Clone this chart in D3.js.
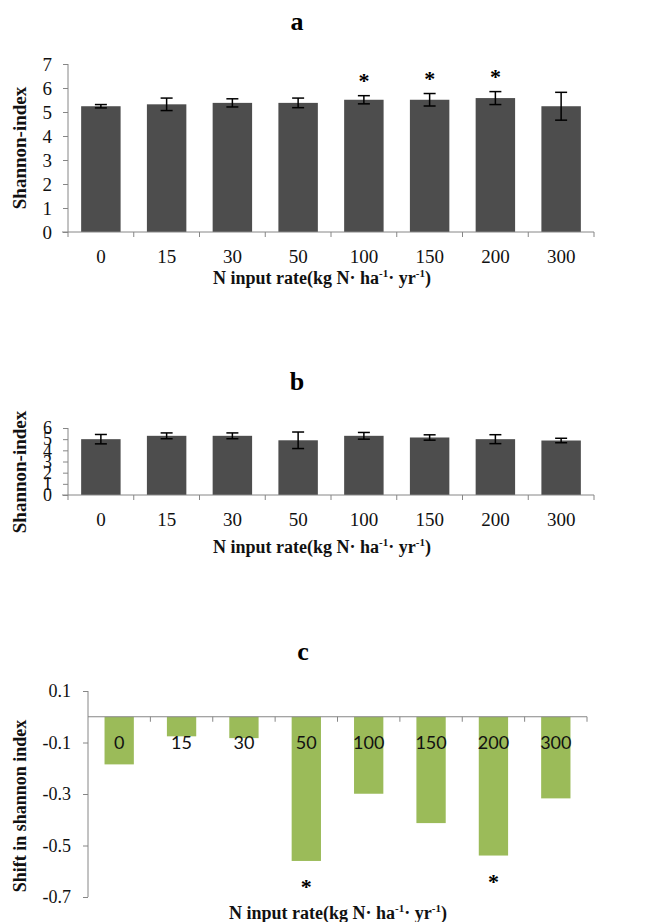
<!DOCTYPE html>
<html><head><meta charset="utf-8">
<script src="https://cdn.jsdelivr.net/npm/d3@7"></script>
<style>body{margin:0;background:#fff}svg{display:block}</style>
</head><body>
<script>
const categories = ["0","15","30","50","100","150","200","300"];
const shannonA = [5.24, 5.32, 5.38, 5.38, 5.51, 5.51, 5.58, 5.24];
const errA     = [0.07, 0.26, 0.17, 0.20, 0.17, 0.26, 0.27, 0.58];
const starsA   = ["100","150","200"];
const shannonB = [5.00, 5.30, 5.30, 4.90, 5.30, 5.15, 5.00, 4.88];
const errB     = [0.42, 0.26, 0.26, 0.74, 0.30, 0.24, 0.40, 0.20];
const shiftC   = [-0.185, -0.076, -0.083, -0.56, -0.299, -0.413, -0.539, -0.317];
const starsC   = ["50","200"];
const ticksA = [0,1,2,3,4,5,6,7];
const ticksB = [0,1,2,3,4,5,6];
const ticksC = [0.1,-0.1,-0.3,-0.5,-0.7];

const W = 665, H = 922;
const svg = d3.select("body").append("svg").attr("width", W).attr("height", H);
const serif = "'Liberation Serif','Times New Roman',serif";
const axisCol = "#868686";
const barGray = "#4d4d4d";
const green = "#9bbb59";

function xTitle(g, x, y) {
  const t = g.append("text").attr("x", x).attr("y", y).attr("text-anchor","middle")
    .attr("font-family", serif).attr("font-weight","bold").attr("font-size",18).attr("fill","#111");
  t.append("tspan").text("N input rate(kg N· ha");
  t.append("tspan").text("-1").attr("font-size",11).attr("dy",-7);
  t.append("tspan").text("· yr").attr("dy",7);
  t.append("tspan").text("-1").attr("font-size",11).attr("dy",-7);
  t.append("tspan").text(")").attr("dy",7);
}

function grayChart(cfg) {
  const g = svg.append("g");
  const x = d3.scaleBand().domain(categories).range([68, 594]).paddingInner(0.4).paddingOuter(0.2);
  const y = d3.scaleLinear().domain([0, cfg.max]).range([cfg.y0, cfg.yTop]);
  g.append("text").attr("x", 297).attr("y", cfg.titleY).attr("text-anchor","middle")
    .attr("font-family", serif).attr("font-weight","bold").attr("font-size",26).text(cfg.title);
  g.selectAll("rect.bar").data(categories).join("rect")
    .attr("x", d => x(d)).attr("width", x.bandwidth())
    .attr("y", (d,i) => y(cfg.vals[i])).attr("height", (d,i) => y(0) - y(cfg.vals[i]))
    .attr("fill", barGray);
  const eb = g.selectAll("g.eb").data(categories).join("g").attr("stroke","#000").attr("stroke-width",1.5);
  eb.append("line").attr("x1", d => x(d)+x.bandwidth()/2).attr("x2", d => x(d)+x.bandwidth()/2)
    .attr("y1",(d,i)=>y(cfg.vals[i]+cfg.errs[i])).attr("y2",(d,i)=>y(cfg.vals[i]-cfg.errs[i]));
  [1,-1].forEach(s => {
    eb.append("line").attr("x1", d => x(d)+x.bandwidth()/2-6).attr("x2", d => x(d)+x.bandwidth()/2+6)
      .attr("y1",(d,i)=>y(cfg.vals[i]+s*cfg.errs[i])).attr("y2",(d,i)=>y(cfg.vals[i]+s*cfg.errs[i]));
  });
  if (cfg.stars) {
    g.selectAll("text.star").data(cfg.stars).join("text")
      .attr("x", d => x(d)+x.bandwidth()/2).attr("y", d => y(cfg.vals[categories.indexOf(d)]+cfg.errs[categories.indexOf(d)]) - 8)
      .attr("text-anchor","middle").attr("font-family", serif).attr("font-weight","bold").attr("font-size",22).text("*");
  }
  const ya = g.append("g").attr("transform","translate(68,0)")
    .call(d3.axisLeft(y).tickValues(cfg.ticks).tickSize(5).tickPadding(11).tickFormat(d3.format("d")));
  ya.select(".domain").attr("stroke", axisCol).attr("d", `M-0,${cfg.yTop}V${cfg.y0}`);
  ya.selectAll(".tick line").attr("stroke", axisCol);
  ya.selectAll(".tick text").attr("font-family", serif).attr("font-size",cfg.tickFont).attr("fill","#111");
  const xa = g.append("g").attr("transform",`translate(0,${cfg.y0})`);
  xa.append("line").attr("x1",62).attr("x2",594).attr("stroke",axisCol);
  const bounds = [68].concat(categories.map(d => x(d)+x.bandwidth()+x.step()*x.paddingInner()/2));
  xa.selectAll("line.tk").data(bounds.slice(0,9)).join("line")
    .attr("x1", d=>d).attr("x2", d=>d).attr("y1",0).attr("y2",5).attr("stroke",axisCol);
  xa.selectAll("text").data(categories).join("text")
    .attr("x", d => x(d)+x.bandwidth()/2).attr("y", 31).attr("text-anchor","middle")
    .attr("font-family", serif).attr("font-size",19).attr("fill","#111").text(d=>d);
  xTitle(g, 322, cfg.xTitleY);
  g.append("text").attr("transform",`translate(26,${cfg.yTitleMid}) rotate(-90)`).attr("text-anchor","middle")
    .attr("font-family", serif).attr("font-weight","bold").attr("font-size",19).attr("fill","#111").text("Shannon-index");
}

grayChart({title:"a", titleY:30, vals:shannonA, errs:errA, stars:starsA, max:7, ticks:ticksA, tickFont:19,
  y0:232, yTop:64, xTitleY:284, yTitleMid:148});
grayChart({title:"b", titleY:390, vals:shannonB, errs:errB, max:6, ticks:ticksB, tickFont:18,
  y0:495, yTop:428, xTitleY:553, yTitleMid:472});

(function(){
  const g = svg.append("g");
  const x = d3.scaleBand().domain(categories).range([88, 587]).paddingInner(0.53).paddingOuter(0.265);
  const y = d3.scaleLinear().domain([0.1, -0.7]).range([691, 897]);
  g.append("text").attr("x", 303).attr("y", 660).attr("text-anchor","middle")
    .attr("font-family", serif).attr("font-weight","bold").attr("font-size",26).text("c");
  g.selectAll("rect").data(categories).join("rect")
    .attr("x", d => x(d)).attr("width", x.bandwidth())
    .attr("y", y(0)).attr("height", (d,i) => y(shiftC[i]) - y(0)).attr("fill", green);
  const fmt = d3.format(".1f");
  const ya = g.append("g").attr("transform","translate(88,0)")
    .call(d3.axisLeft(y).tickValues(ticksC).tickSize(5).tickPadding(12).tickFormat(d => fmt(d).replace("\u2212","-")));
  ya.select(".domain").attr("stroke", axisCol).attr("d", `M0,${y(0.1)}V${y(-0.7)}`);
  ya.selectAll(".tick line").attr("stroke", axisCol);
  ya.selectAll(".tick text").attr("font-family", serif).attr("font-size",18).attr("fill","#111");
  const xa = g.append("g").attr("transform",`translate(0,${y(0)})`);
  xa.append("line").attr("x1",88).attr("x2",587).attr("stroke",axisCol);
  const bounds = categories.map(d => x(d)+x.bandwidth()+x.step()*x.paddingInner()/2);
  xa.selectAll("line.tk").data(bounds).join("line")
    .attr("x1", d=>d).attr("x2", d=>d).attr("y1",0).attr("y2",5).attr("stroke",axisCol);
  xa.selectAll("text").data(categories).join("text")
    .attr("x", d => x(d)+x.bandwidth()/2).attr("y", 32).attr("text-anchor","middle")
    .attr("font-family","Lato,'Open Sans',sans-serif").attr("font-size",18).attr("fill","#111").text(d=>d);
  g.selectAll("text.star").data(starsC).join("text")
    .attr("x", d => x(d)+x.bandwidth()/2).attr("y", d => y(shiftC[categories.indexOf(d)]) + 33)
    .attr("text-anchor","middle").attr("font-family", serif).attr("font-weight","bold").attr("font-size",22).text("*");
  xTitle(g, 338, 919);
  g.append("text").attr("transform",`translate(26,806) rotate(-90)`).attr("text-anchor","middle")
    .attr("font-family", serif).attr("font-weight","bold").attr("font-size",18).attr("fill","#111").text("Shift in shannon index");
})();
</script>
</body></html>
